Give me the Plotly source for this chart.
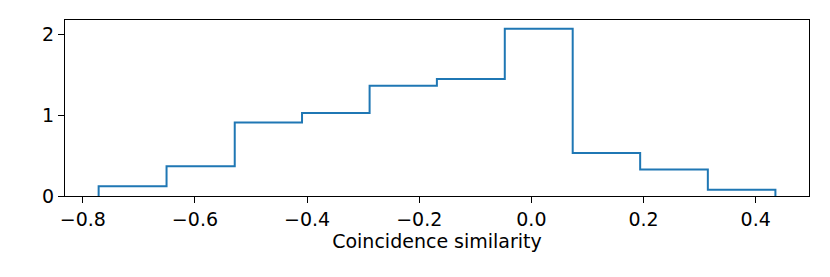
import plotly.graph_objects as go

# Histogram (density)
bin_edges = [-0.7717, -0.6506, -0.5290, -0.4090, -0.2885, -0.1685,
             -0.0474, 0.0737, 0.1940, 0.3147, 0.4352]
densities = [0.120, 0.368, 0.912, 1.031, 1.367, 1.450, 2.075, 0.534, 0.328, 0.079]

x_ticks = [-0.8, -0.6, -0.4, -0.2, 0.0, 0.2, 0.4]
x_tick_labels = ["\u22120.8", "\u22120.6", "\u22120.4", "\u22120.2", "0.0", "0.2", "0.4"]
y_ticks = [0, 1, 2]
y_tick_labels = ["0", "1", "2"]

# step outline: up at first edge, across each bin, down at last edge
xs = [bin_edges[0]] + bin_edges[:-1] + [bin_edges[-1]]
ys = [0] + densities + [0]

fig = go.Figure()
fig.add_trace(go.Scatter(
    x=xs, y=ys, mode="lines", line=dict(shape="hv", color="#1f77b4", width=2),
    hoverinfo="skip", showlegend=False,
))

# page body adds an 8px margin, so the figure is sized to fit inside it
font = dict(family="DejaVu Sans", size=19, color="black")
fig.update_layout(
    width=814, height=261,
    margin=dict(l=57, r=13, t=12, b=73, autoexpand=False),
    paper_bgcolor="white", plot_bgcolor="white",
    font=font,
    showlegend=False,
)
fig.update_xaxes(
    range=[-0.8317, 0.4951], tickvals=x_ticks, ticktext=x_tick_labels,
    ticks="outside", ticklen=6, tickwidth=1.3, tickcolor="black",
    showline=True, linecolor="black", linewidth=1.3, mirror=True,
    showgrid=False, zeroline=False, automargin=False,
    title=dict(text="Coincidence similarity", font=font, standoff=4),
)
fig.update_yaxes(
    range=[0, 2.183], tickvals=y_ticks, ticktext=y_tick_labels,
    ticks="outside", ticklen=6, tickwidth=1.3, tickcolor="black",
    showline=True, linecolor="black", linewidth=1.3, mirror=True,
    showgrid=False, zeroline=False, automargin=False,
)
fig.write_html("out.html")
